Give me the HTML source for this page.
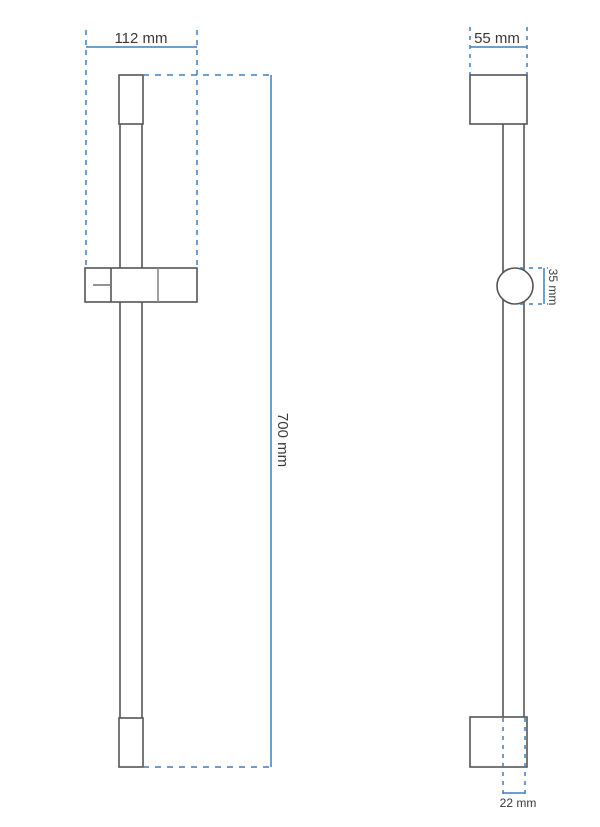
<!DOCTYPE html>
<html><head><meta charset="utf-8"><style>
html,body{margin:0;padding:0;background:#fff;}
svg{display:block;}
text{font-family:"Liberation Sans",sans-serif;fill:#3a3a3a;}
</style></head><body>
<svg width="600" height="827" viewBox="0 0 600 827" xmlns="http://www.w3.org/2000/svg">
<g fill="none" stroke="#555" stroke-width="1.6">
  <!-- left view -->
  <rect x="119" y="75" width="24" height="49"/>
  <line x1="120" y1="124" x2="120" y2="268"/>
  <line x1="142" y1="124" x2="142" y2="268"/>
  <rect x="85" y="268" width="112" height="34"/>
  <line x1="111" y1="268" x2="111" y2="302"/>
  <line x1="158" y1="268" x2="158" y2="302" stroke="#888"/>
  <line x1="93" y1="285" x2="110" y2="285" stroke-width="1.2"/>
  <line x1="120" y1="302" x2="120" y2="718"/>
  <line x1="142" y1="302" x2="142" y2="718"/>
  <rect x="119" y="718" width="24" height="49"/>
  <!-- right view -->
  <rect x="470" y="75" width="57" height="49"/>
  <line x1="503" y1="124" x2="503" y2="717"/>
  <line x1="524" y1="124" x2="524" y2="717"/>
  <circle cx="515" cy="286" r="18" fill="#fff"/>
  <rect x="470" y="717" width="57" height="50"/>
</g>
<g fill="none" stroke="#3f7fbf" stroke-width="1.5">
  <!-- 112 mm -->
  <line x1="86" y1="47" x2="197" y2="47"/>
  <line x1="86" y1="30" x2="86" y2="268" stroke-dasharray="5,5"/>
  <line x1="197" y1="30" x2="197" y2="268" stroke-dasharray="5,5"/>
  <!-- 700 mm -->
  <line x1="143" y1="75" x2="271" y2="75" stroke-dasharray="6,6"/>
  <line x1="143" y1="767" x2="271" y2="767" stroke-dasharray="6,6"/>
  <line x1="271" y1="75" x2="271" y2="767"/>
  <!-- 55 mm -->
  <line x1="470" y1="47" x2="527" y2="47"/>
  <line x1="470" y1="27" x2="470" y2="75" stroke-dasharray="4,5"/>
  <line x1="527" y1="27" x2="527" y2="75" stroke-dasharray="4,5"/>
  <!-- 35 mm -->
  <line x1="544" y1="268" x2="544" y2="304"/>
  <line x1="520" y1="268" x2="548" y2="268" stroke-dasharray="4,5"/>
  <line x1="520" y1="304" x2="548" y2="304" stroke-dasharray="4,5"/>
  <!-- 22 mm -->
  <line x1="503" y1="718" x2="503" y2="796" stroke-dasharray="4,5"/>
  <line x1="525" y1="718" x2="525" y2="796" stroke-dasharray="4,5"/>
  <line x1="503" y1="793" x2="525" y2="793"/>
</g>
<text x="141" y="43" font-size="15" text-anchor="middle">112 mm</text>
<text x="497" y="43" font-size="15" text-anchor="middle">55 mm</text>
<text x="518" y="807" font-size="12" text-anchor="middle">22 mm</text>
<text transform="translate(278,440) rotate(90)" font-size="15" text-anchor="middle">700 mm</text>
<text transform="translate(549,287) rotate(90)" font-size="12" text-anchor="middle">35 mm</text>
</svg>
</body></html>
